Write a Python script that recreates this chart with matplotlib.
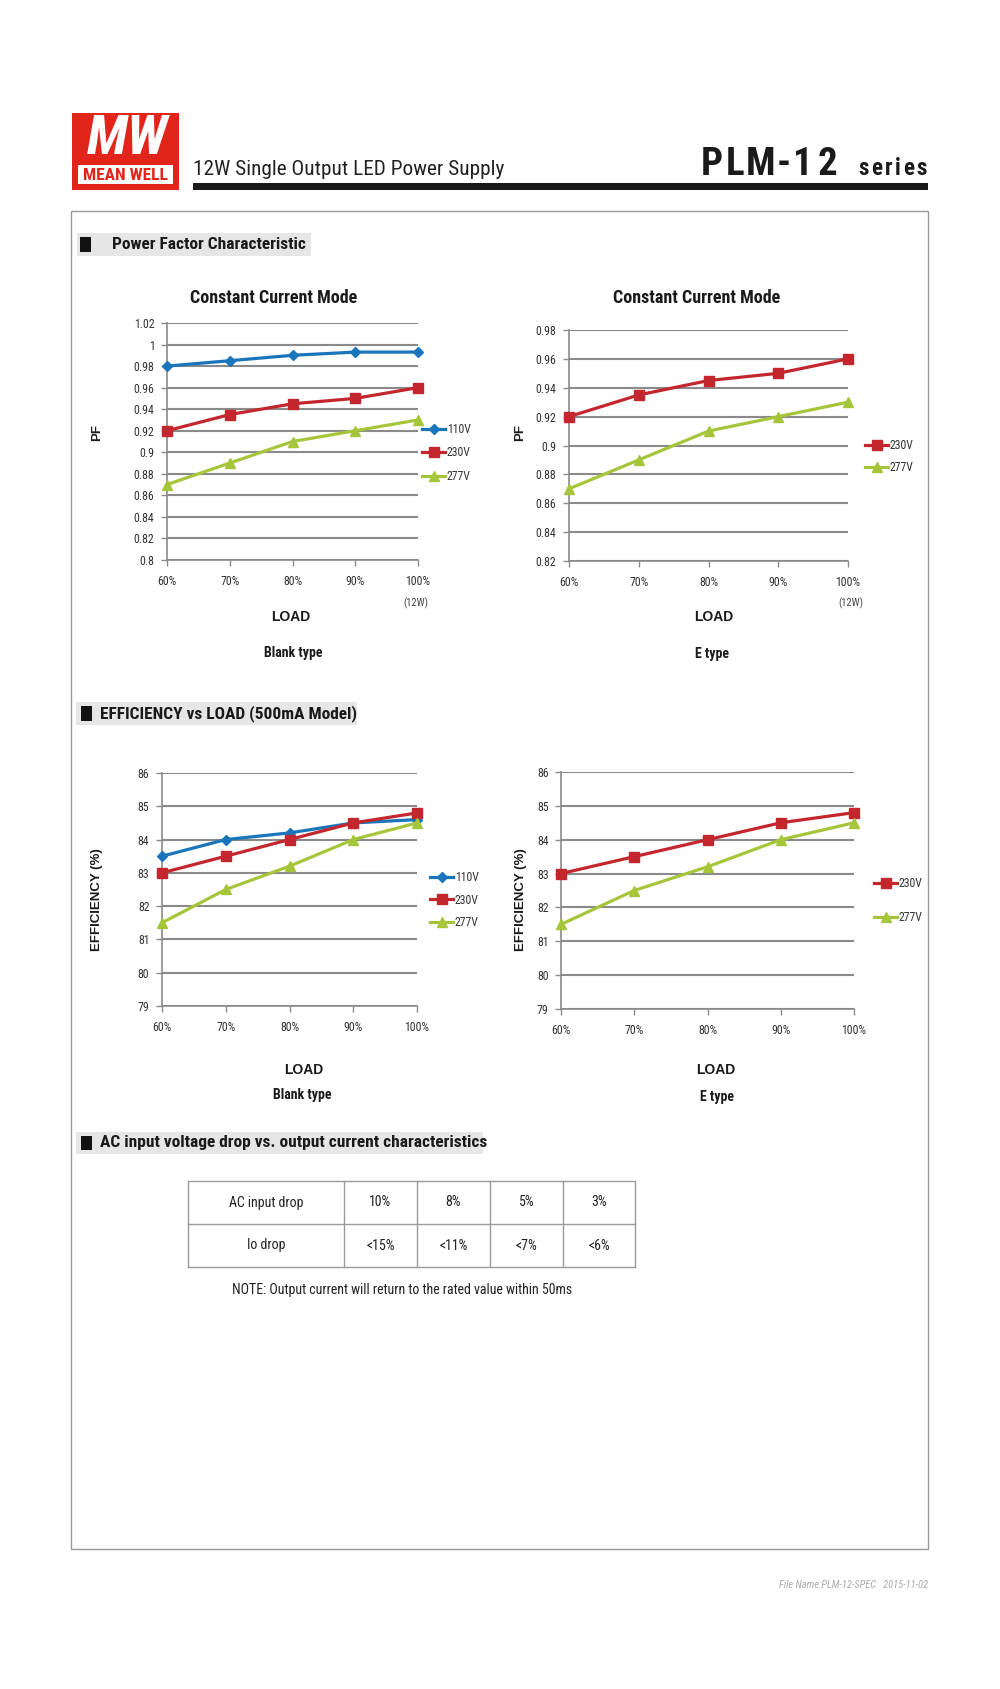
import matplotlib
matplotlib.use('Agg')
import matplotlib.pyplot as plt
import numpy as np
from matplotlib.patches import Rectangle

NARROW = ['Liberation Sans Narrow', 'Roboto Condensed', 'Liberation Sans', 'DejaVu Sans']
WIDE = ['Liberation Sans', 'DejaVu Sans']
plt.rcParams['font.family'] = NARROW

# ---- data ----
load = [60, 70, 80, 90, 100]
load_labels = ['60%', '70%', '80%', '90%', '100%']

pf_blank_110 = [0.980, 0.985, 0.990, 0.993, 0.993]
pf_blank_230 = [0.920, 0.935, 0.945, 0.950, 0.960]
pf_blank_277 = [0.870, 0.890, 0.910, 0.920, 0.930]
pf_e_230 = [0.920, 0.935, 0.945, 0.950, 0.960]
pf_e_277 = [0.870, 0.890, 0.910, 0.920, 0.930]

eff_blank_110 = [83.5, 84.0, 84.2, 84.5, 84.6]
eff_blank_230 = [83.0, 83.5, 84.0, 84.5, 84.8]
eff_blank_277 = [81.5, 82.5, 83.2, 84.0, 84.5]
eff_e_230 = [83.0, 83.5, 84.0, 84.5, 84.8]
eff_e_277 = [81.5, 82.5, 83.2, 84.0, 84.5]

table_head = ['AC input drop', '10%', '8%', '5%', '3%']
table_row = ['Io drop', '<15%', '<11%', '<7%', '<6%']

BLUE = '#1b75bb'
RED = '#c4262e'
GREEN = '#a5c63b'
GRID = '#8a8a8a'

W, H = 1000, 1689
fig = plt.figure(figsize=(W / 100, H / 100), dpi=100)
bg = fig.add_axes([0, 0, 1, 1], zorder=0)
bg.set_xlim(0, W)
bg.set_ylim(H, 0)
bg.axis('off')


def ax_box(l, t, r, b):
    return [l / W, 1 - b / H, (r - l) / W, (b - t) / H]


def fmt(v):
    return ('%.2f' % v).rstrip('0').rstrip('.')


# ---- header ----
bg.add_patch(Rectangle((72, 113), 107, 77, fc='#e1251b', ec='none'))
bg.add_patch(Rectangle((78, 165), 95, 19, fc='white', ec='none'))
bg.text(127, 139, 'MW', color='white', fontsize=40, fontweight='bold', fontstyle='italic',
        ha='center', va='center')
bg.text(125.5, 175, 'MEAN WELL', color='#e1251b', fontsize=12.5, fontweight='bold',
        ha='center', va='center')
bg.text(193, 175, '12W Single Output LED Power Supply', fontsize=15.3, color='#222',
        ha='left', va='baseline')
bg.add_patch(Rectangle((193, 183), 735, 7, fc='#1a1a1a', ec='none'))

for ch, cx in zip('PLM-12', [712, 735, 761, 784, 803, 827]):
    bg.text(cx, 175, ch, fontsize=28, fontweight='bold', color='#1a1a1a', ha='center', va='baseline')
for ch, cx in zip('series', [863.3, 876.7, 888.5, 897.6, 908.4, 921.8]):
    bg.text(cx, 175, ch, fontsize=16.5, fontweight='bold', color='#1a1a1a', ha='center', va='baseline')

# outer frame
bg.add_patch(Rectangle((71, 211), 857, 1338, fc='none', ec='#999999', lw=1))


def section(x0, x1, y0, y1, sq_x, text_x, text):
    bg.add_patch(Rectangle((x0, y0), x1 - x0, y1 - y0, fc='#e6e6e6', ec='none'))
    bg.add_patch(Rectangle((sq_x, y0 + 4), 11, y1 - y0 - 8, fc='#111111', ec='none'))
    bg.text(text_x, (y0 + y1) / 2, text, fontsize=12.5, fontweight='bold', color='#1a1a1a',
            ha='left', va='center')


section(77, 311, 233, 256, 80, 112, 'Power Factor Characteristic')
section(76, 357, 702, 725, 81, 100, 'EFFICIENCY vs LOAD (500mA Model)')
section(76, 483, 1132, 1154, 81, 100, 'AC input voltage drop vs. output current characteristics')


def chart(rect, yticks, series, leg_x, leg_y, leg_ls):
    ax = fig.add_axes(ax_box(*rect), zorder=2)
    ax.set_facecolor('none')
    for vals, lab, col, mk, ms in series:
        ax.plot(load, vals, color=col, lw=2.3, marker=mk, ms=ms, label=lab,
                clip_on=False, zorder=3)
    ax.set_xlim(60, 100)
    ax.set_ylim(yticks[0], yticks[-1])
    ax.set_xticks(load)
    ax.set_xticklabels(load_labels)
    ax.set_yticks(yticks)
    ax.set_yticklabels([fmt(v) for v in yticks])
    ax.yaxis.grid(True, color=GRID, lw=1.5)
    ax.set_axisbelow(True)
    for s in ['top', 'right']:
        ax.spines[s].set_visible(False)
    for s in ['left', 'bottom']:
        ax.spines[s].set_color(GRID)
        ax.spines[s].set_linewidth(1.2)
    ax.tick_params(axis='both', direction='out', length=4, width=1, color=GRID,
                   labelsize=8.6, labelcolor='#333333')
    ax.tick_params(axis='x', pad=7)
    ax.tick_params(axis='y', pad=5)
    leg = ax.legend(loc='center left', bbox_to_anchor=(leg_x / W, 1 - leg_y / H),
                    bbox_transform=fig.transFigure, frameon=False, fontsize=8.5,
                    handlelength=1.95, handletextpad=0.15, labelspacing=leg_ls,
                    borderpad=0, borderaxespad=0, numpoints=1)
    for t in leg.get_texts():
        t.set_color('#333333')
    return ax


s110 = 'D', 5
s230 = 's', 6.5
s277 = '^', 7

chart((167, 323, 418, 560), np.linspace(0.80, 1.02, 12),
      [(pf_blank_110, '110V', BLUE, *s110),
       (pf_blank_230, '230V', RED, *s230),
       (pf_blank_277, '277V', GREEN, *s277)], 422, 453, 0.86)
chart((569, 330, 848, 561), np.linspace(0.82, 0.98, 9),
      [(pf_e_230, '230V', RED, *s230),
       (pf_e_277, '277V', GREEN, *s277)], 865, 456.5, 0.78)
chart((162, 773, 417, 1006), np.linspace(79, 86, 8),
      [(eff_blank_110, '110V', BLUE, *s110),
       (eff_blank_230, '230V', RED, *s230),
       (eff_blank_277, '277V', GREEN, *s277)], 430, 900, 0.82)
chart((561, 772, 854, 1009), np.linspace(79, 86, 8),
      [(eff_e_230, '230V', RED, *s230),
       (eff_e_277, '277V', GREEN, *s277)], 874, 900.5, 1.8)

# chart labels
for x, y in [(274, 298), (697, 298)]:
    bg.text(x, y, 'Constant Current Mode', fontsize=13, fontweight='bold', color='#1a1a1a',
            ha='center', va='center')
for x, y, s in [(97, 432, 'PF'), (520, 432, 'PF'), (97, 900, 'EFFICIENCY (%)'), (521, 900, 'EFFICIENCY (%)')]:
    bg.text(x, y, s, fontsize=9.5, fontweight='bold', family=WIDE, color='#1a1a1a',
            rotation=90, ha='center', va='center')
for x, y in [(291, 617), (714, 617), (304, 1070), (716, 1070)]:
    bg.text(x, y, 'LOAD', fontsize=10, fontweight='bold', family=WIDE, color='#1a1a1a',
            ha='center', va='center')
for x, y, s in [(293, 653, 'Blank type'), (712, 654, 'E type'), (302, 1095, 'Blank type'), (717, 1097, 'E type')]:
    bg.text(x, y, s, fontsize=10, fontweight='bold', color='#1a1a1a', ha='center', va='center')
for x, y in [(416, 603), (851, 603)]:
    bg.text(x, y, '(12W)', fontsize=7.6, color='#444444', ha='center', va='center')

# ---- table ----
col_x = [188, 344, 417, 490, 563, 635]
row_y = [1181, 1224, 1267]
for x in col_x:
    bg.plot([x, x], [row_y[0], row_y[-1]], color='#9a9a9a', lw=1)
for y in row_y:
    bg.plot([col_x[0], col_x[-1]], [y, y], color='#9a9a9a', lw=1)
for r, row in enumerate([table_head, table_row]):
    yc = (row_y[r] + row_y[r + 1]) / 2
    for c, txt in enumerate(row):
        xc = (col_x[c] + col_x[c + 1]) / 2
        bg.text(xc, yc, txt, fontsize=10, color='#222222', ha='center', va='center')
bg.text(232, 1290, 'NOTE: Output current will return to the rated value within 50ms',
        fontsize=10, color='#222222', ha='left', va='center')

bg.text(928, 1585, 'File Name:PLM-12-SPEC   2015-11-02', fontsize=7.5, fontstyle='italic',
        color='#aaaaaa', ha='right', va='center')

fig.savefig('out.png', dpi=100)
plt.close(fig)
